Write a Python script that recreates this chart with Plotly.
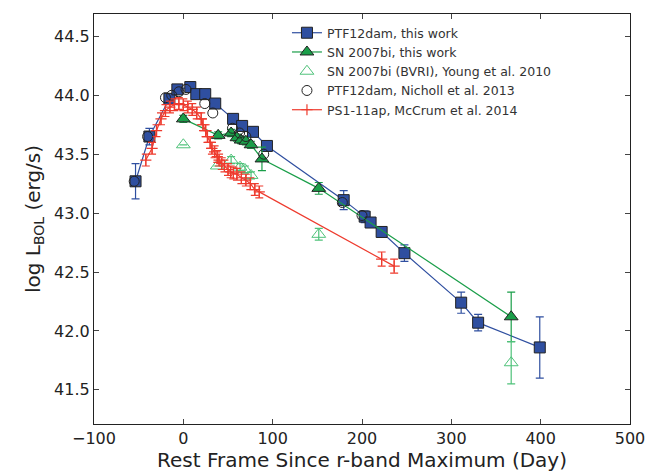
import plotly.graph_objects as go

ptf_x = [-53.5, -38, -15.6, -6.7, 7.8, 14.5, 24.5, 35.7, 55.7, 65.8, 78, 93.6,
         179.5, 203, 209.6, 222, 247.5, 311, 330, 399]
ptf_y = [43.27, 43.65, 43.97, 44.05, 44.07, 44.01, 44.01, 43.93, 43.80, 43.74, 43.69, 43.57,
         43.11, 42.97, 42.92, 42.84, 42.66, 42.24, 42.07, 41.86]
ptf_err = [0.15, 0.07, 0.03, 0.03, 0.03, 0.03, 0.03, 0.04, 0.04, 0.04, 0.04, 0.04,
           0.08, 0.05, 0.04, 0.04, 0.07, 0.09, 0.07, 0.26]

bi_x = [0, 39, 53.5, 60, 64.7, 70, 75.8, 88, 151.6, 367]
bi_y = [43.80, 43.66, 43.68, 43.64, 43.62, 43.61, 43.58, 43.46, 43.21, 42.12]
bi_err = [0.03, 0.03, 0.03, 0.03, 0.03, 0.03, 0.03, 0.1, 0.05, 0.21]

young_x = [0, 38, 53.5, 63.5, 69, 75.8, 151.6, 367]
young_y = [43.58, 43.40, 43.45, 43.39, 43.37, 43.32, 42.82, 41.73]
young_err = [0, 0, 0.03, 0.03, 0.03, 0.03, 0.05, 0.18]

nich_x = [-55, -40, -20, -13, -5, 3, 24, 33, 55, 63, 70, 90, 178, 200]
nich_y = [43.27, 43.65, 43.98, 44.0, 44.03, 44.05, 43.93, 43.85, 43.72, 43.68, 43.65, 43.5, 43.09, 42.98]

ps1_x = [-42, -35, -30, -25, -20, -15, -10, -5, 0, 5, 10, 15, 20, 22, 25, 27, 30, 32, 35, 38,
         40, 43, 46, 50, 53, 56, 60, 65, 70, 75, 80, 85, 222, 236]
ps1_y = [43.45, 43.55, 43.7, 43.8, 43.87, 43.9, 43.92, 43.93, 43.92, 43.9, 43.88, 43.85, 43.8,
         43.75, 43.7, 43.65, 43.6, 43.55, 43.52, 43.48, 43.45, 43.42, 43.4, 43.37, 43.35, 43.34,
         43.33, 43.3, 43.28, 43.25, 43.2, 43.18, 42.61, 42.55]
ps1_err = [0.05] * 32 + [0.06, 0.06]

blue = "#2f4fa0"
green = "#1a9e49"
lgreen = "#4fc27a"
red = "#ee3b2e"

fig = go.Figure()
fig.add_trace(go.Scatter(
    x=ptf_x, y=ptf_y, mode="lines+markers", name="PTF12dam, this work",
    line=dict(color=blue, width=1.2),
    marker=dict(symbol="square", size=11, color=blue, line=dict(color="#222", width=1)),
    error_y=dict(array=ptf_err, color=blue, thickness=1.2, width=4)))
fig.add_trace(go.Scatter(
    x=bi_x, y=bi_y, mode="lines+markers", name="SN 2007bi, this work",
    line=dict(color=green, width=1.2),
    marker=dict(symbol="triangle-up", size=12, color=green, line=dict(color="#222", width=1)),
    error_y=dict(array=bi_err, color=green, thickness=1.2, width=4)))
fig.add_trace(go.Scatter(
    x=young_x, y=young_y, mode="markers", name="SN 2007bi (BVRI), Young et al. 2010",
    marker=dict(symbol="triangle-up-open", size=12, color=lgreen, line=dict(width=1)),
    error_y=dict(array=young_err, color=lgreen, thickness=1.2, width=4)))
fig.add_trace(go.Scatter(
    x=nich_x, y=nich_y, mode="markers", name="PTF12dam, Nicholl et al. 2013",
    marker=dict(symbol="circle-open", size=10, color="#222", line=dict(width=1))))
fig.add_trace(go.Scatter(
    x=ps1_x, y=ps1_y, mode="lines+markers", name="PS1-11ap, McCrum et al. 2014",
    line=dict(color=red, width=1.2),
    marker=dict(symbol="cross-thin-open", size=8, color=red, line=dict(color=red, width=1.2)),
    error_y=dict(array=ps1_err, color=red, thickness=1.2, width=4)))

axis = dict(showgrid=False, zeroline=False, ticks="inside", ticklen=5, mirror="allticks",
            showline=True, linecolor="#222", linewidth=1.2, tickfont=dict(size=16, color="#222"))
fig.update_layout(
    width=668, height=476, plot_bgcolor="white", paper_bgcolor="white",
    font=dict(family="DejaVu Sans", color="#222"),
    margin=dict(l=86, r=46, t=6, b=60),
    legend=dict(x=0.36, y=0.99, bgcolor="rgba(0,0,0,0)", font=dict(size=12.5, color="#333"),
                tracegroupgap=0, itemwidth=30),
    xaxis=dict(axis, range=[-100, 500], dtick=100,
               title=dict(text="Rest Frame Since r-band Maximum (Day)", font=dict(size=20), standoff=2)),
    yaxis=dict(axis, range=[41.21, 44.69], tickvals=[41.5, 42.0, 42.5, 43.0, 43.5, 44.0, 44.5],
               tickformat=".1f",
               title=dict(text="log L<sub>BOL</sub> (erg/s)", font=dict(size=20), standoff=8)),
)
fig.write_html("out.html")
